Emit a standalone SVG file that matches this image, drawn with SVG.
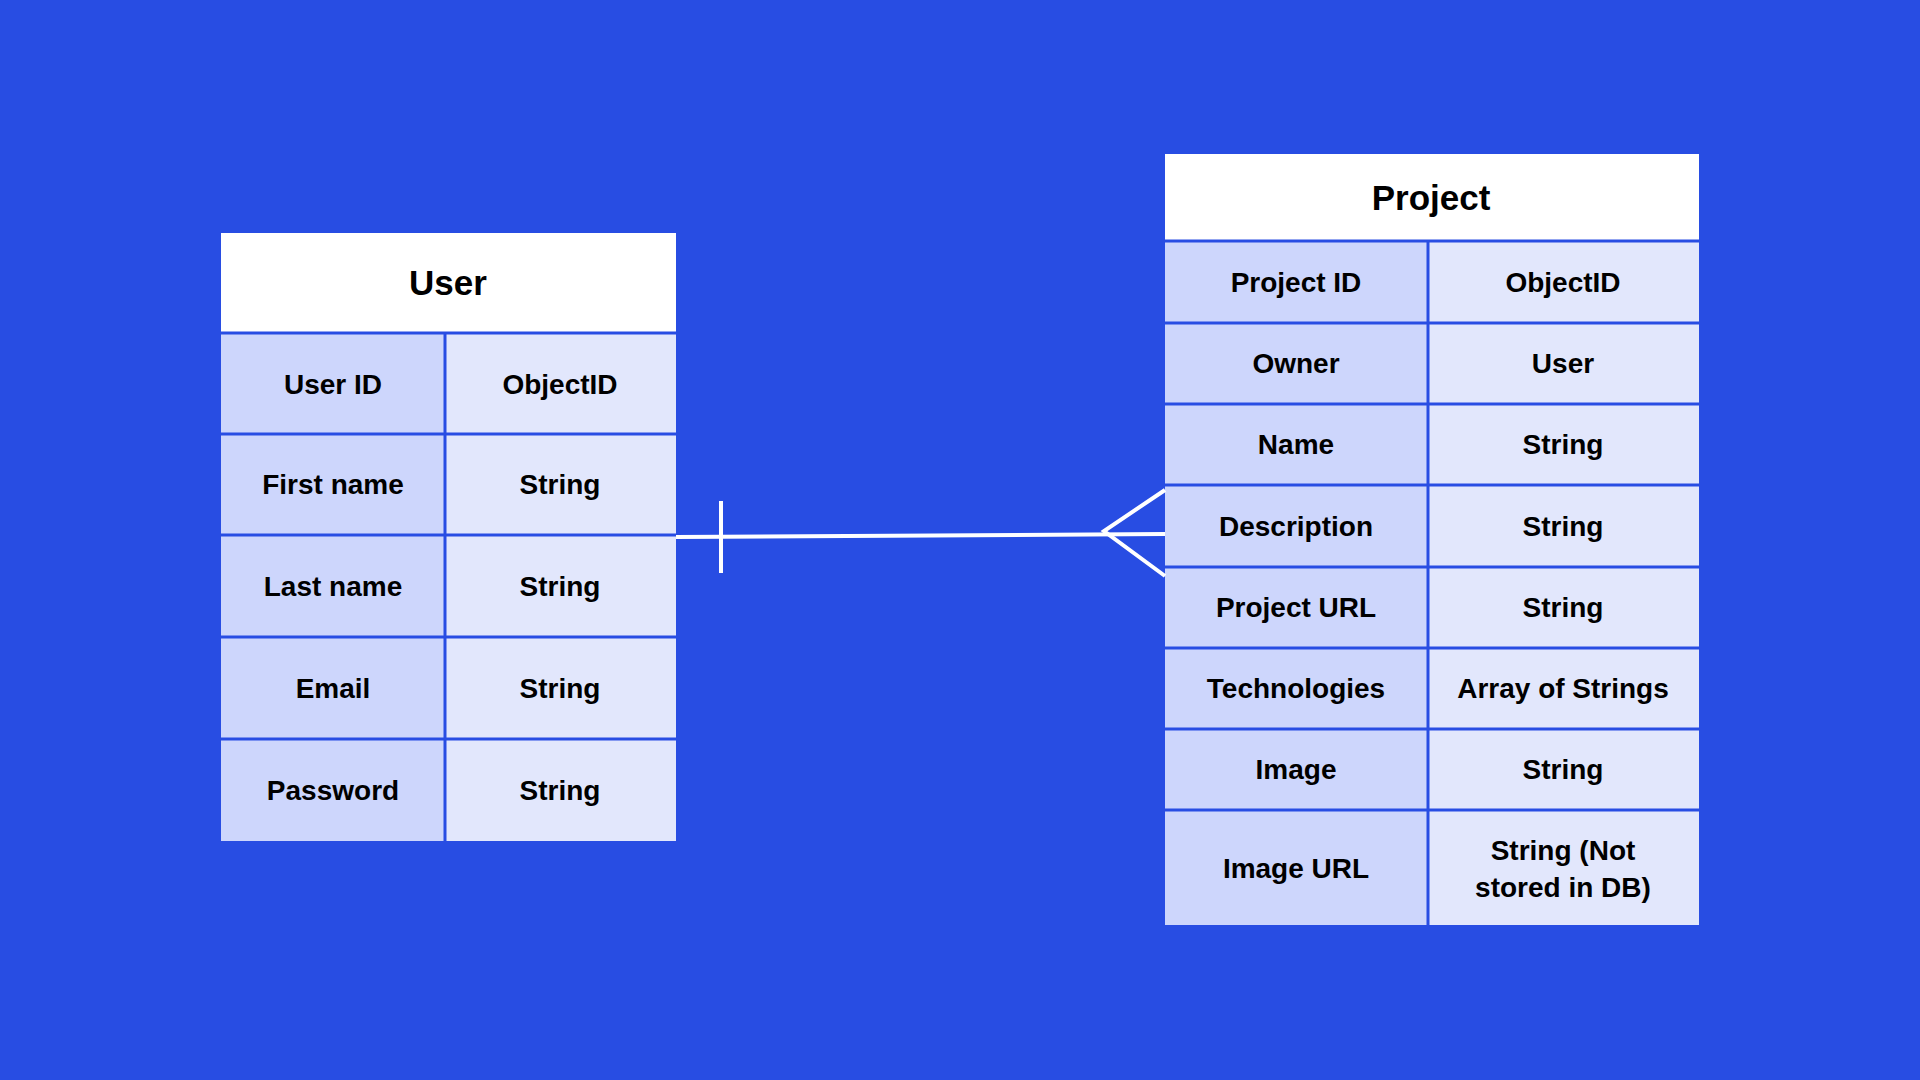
<svg xmlns="http://www.w3.org/2000/svg" width="1920" height="1080" viewBox="0 0 1920 1080">
<style>
.bg{fill:#284DE3}
.hd{fill:#FFFFFF}
.k{fill:#CDD6FC}
.v{fill:#E2E7FC}
.sep{stroke:#284DE3;stroke-width:3;fill:none}
text{font-family:"Liberation Sans",Arial,sans-serif;font-weight:bold;fill:#000;text-anchor:middle}
.t{font-size:28px}
.h{font-size:35px}
.c{stroke:#FFFFFF;stroke-width:4;fill:none}
</style>
<rect class="bg" x="0" y="0" width="1920" height="1080"/>
<g id="user">
<rect class="hd" x="221" y="233" width="455" height="100"/>
<rect class="k" x="221" y="333" width="224" height="508"/>
<rect class="v" x="445" y="333" width="231" height="508"/>
<path class="sep" d="M221 333H676M221 434H676M221 535H676M221 637H676M221 739H676M445 333V841"/>
<text class="h" x="448" y="295">User</text>
<text class="t" x="333" y="394">User ID</text><text class="t" x="560" y="394">ObjectID</text>
<text class="t" x="333" y="494">First name</text><text class="t" x="560" y="494">String</text>
<text class="t" x="333" y="596">Last name</text><text class="t" x="560" y="596">String</text>
<text class="t" x="333" y="698">Email</text><text class="t" x="560" y="698">String</text>
<text class="t" x="333" y="800">Password</text><text class="t" x="560" y="800">String</text>
</g>
<g id="project">
<rect class="hd" x="1165" y="154" width="534" height="87"/>
<rect class="k" x="1165" y="241" width="263" height="684"/>
<rect class="v" x="1428" y="241" width="271" height="684"/>
<path class="sep" d="M1165 241H1699M1165 323H1699M1165 404H1699M1165 485H1699M1165 567H1699M1165 648H1699M1165 729H1699M1165 810H1699M1428 241V925"/>
<text class="h" x="1431" y="210">Project</text>
<text class="t" x="1296" y="292">Project ID</text><text class="t" x="1563" y="292">ObjectID</text>
<text class="t" x="1296" y="373">Owner</text><text class="t" x="1563" y="373">User</text>
<text class="t" x="1296" y="454">Name</text><text class="t" x="1563" y="454">String</text>
<text class="t" x="1296" y="536">Description</text><text class="t" x="1563" y="536">String</text>
<text class="t" x="1296" y="617">Project URL</text><text class="t" x="1563" y="617">String</text>
<text class="t" x="1296" y="698">Technologies</text><text class="t" x="1563" y="698">Array of Strings</text>
<text class="t" x="1296" y="779">Image</text><text class="t" x="1563" y="779">String</text>
<text class="t" x="1296" y="878">Image URL</text>
<text class="t" x="1563" y="860">String (Not</text>
<text class="t" x="1563" y="897">stored in DB)</text>
</g>
<g id="connectors">
<path class="c" d="M676 537L1165 534"/>
<path class="c" d="M721 501V573"/>
<path class="c" d="M1165 490L1104 531L1165 576"/>
</g>
</svg>
